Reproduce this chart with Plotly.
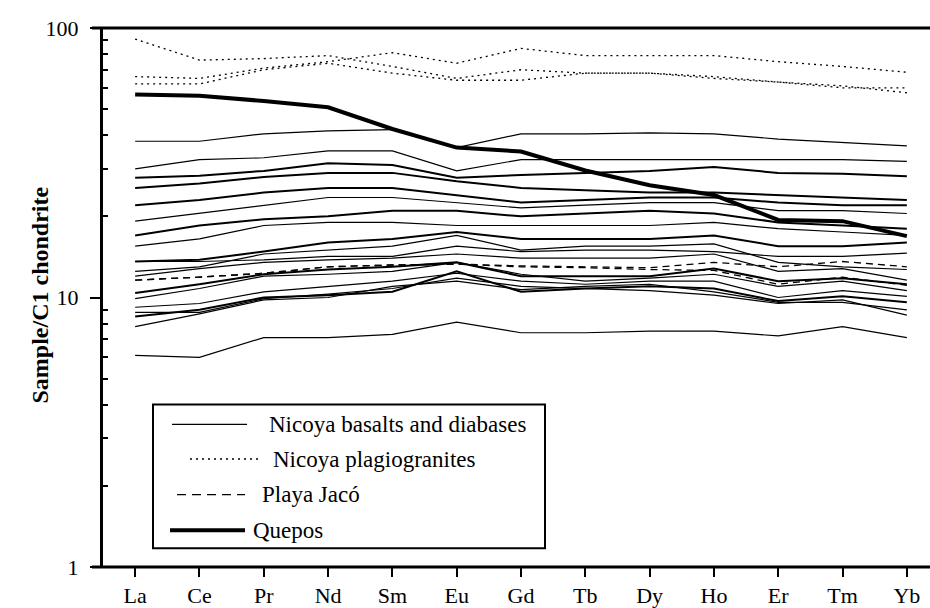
import plotly.graph_objects as go

elements = ["La", "Ce", "Pr", "Nd", "Sm", "Eu", "Gd", "Tb", "Dy", "Ho", "Er", "Tm", "Yb"]

# Nicoya basalts and diabases (thin solid lines)
nicoya_basalts = [
    [38, 38, 40.5, 41.5, 42, 36, 40.5, 40.5, 40.8, 40.5, 38.7, 37.5, 36.5],
    [30, 32.5, 33, 35, 35, 29.5, 32.5, 32.5, 32.5, 32.5, 32.5, 32.5, 32],
    [19.2, 20.5, 22, 23.5, 23.5, 22.5, 21.5, 22, 22.5, 22.5, 21, 21, 20.5],
    [15.5, 16.5, 18.5, 19, 19, 18.5, 18.5, 18.5, 18.5, 19, 18, 17.5, 17],
    [13.6, 13.6, 13.8, 14.2, 14.2, 15.5, 14.8, 15, 15, 14.8, 14.2, 14.2, 14.6],
    [12.5, 13, 14.5, 15, 15.5, 17, 15, 15.5, 15.5, 15.8, 13.5, 13, 12.7],
    [12, 12.8, 13.5, 13.8, 14, 14.5, 14, 14, 14, 14.5, 12.5, 12.8, 11.6],
    [9.9, 10.8, 12, 12.2, 12.5, 13.5, 12.2, 11.5, 11.8, 12.2, 11, 11.5, 10.6],
    [9.2, 9.5, 10.5, 11, 11.5, 12.3, 11.5, 11.2, 11.5, 11.5, 10, 10.6, 10.1],
    [7.8, 8.7, 9.8, 10, 11, 11.5, 10.7, 11, 11.2, 10.5, 9.6, 9.6, 9],
    [8.8, 8.8, 9.9, 10.3, 10.8, 11.8, 11, 10.8, 10.6, 10.2, 9.5, 9.8, 8.6],
    [6.1, 6.0, 7.1, 7.1, 7.3, 8.1, 7.4, 7.4, 7.5, 7.5, 7.2, 7.8, 7.1],
]
# heavier-drawn solid sample lines
heavy_samples = [
    [27.8, 28.3, 29.5, 31.5, 31, 27.8, 28.5, 29, 29.5, 30.5, 29, 28.8, 28.2],
    [25.5, 26.5, 28, 29, 29, 27, 25.5, 25, 24.5, 24.5, 24, 23.5, 23],
    [22, 23, 24.5, 25.5, 25.5, 24, 22.5, 23, 23.5, 23.5, 22.5, 22, 22],
    [17, 18.5, 19.5, 20, 21, 21, 20, 20.5, 21, 20.5, 19, 18.5, 18],
    [13.6, 13.8, 14.8, 16, 16.5, 17.5, 16.5, 16.5, 16.5, 17, 15.5, 15.5, 16],
    [10.4, 11.2, 12.2, 12.7, 13, 13.5, 12, 12, 12, 12.8, 11.5, 11.8, 11.2],
    [8.5, 9, 10, 10.2, 10.5, 12.5, 10.5, 10.8, 11, 10.8, 9.7, 10.1, 9.6],
]
# Nicoya plagiogranites (dotted)
plagiogranites = [
    [91, 76, 77, 79, 72, 65, 70, 68, 68, 66, 63, 60, 60],
    [66, 65, 71, 75, 81, 74, 84, 79, 79, 79, 75, 72, 68.5],
    [62, 62, 70, 74, 68, 64, 64, 68, 68, 65, 63, 61, 57.5],
]
# Playa Jacó (dashed)
playa_jaco = [
    [11.6, 11.9, 12.3, 13.0, 13.2, 13.3, 13.1, 13.0, 12.9, 13.5, 13.0, 13.6, 13.0],
    [11.6, 11.9, 12.3, 13.0, 13.2, 13.3, 13.0, 12.9, 12.7, 12.6, 11.2, 11.9, 11.1],
]
# Quepos (thick)
quepos = [
    [56.6, 56, 53.6, 50.8, 42.2, 36, 34.8, 29.6, 26.1, 24, 19.4, 19.2, 16.9],
]

legend_labels = ["Nicoya basalts and diabases", "Nicoya plagiogranites", "Playa Jacó", "Quepos"]

FONT = "Liberation Serif"
x = list(range(len(elements)))

fig = go.Figure()

def add_lines(series, width, dash="solid"):
    for s in series:
        fig.add_trace(go.Scatter(x=x, y=s, mode="lines",
                                 line=dict(color="black", width=width, dash=dash),
                                 showlegend=False, hoverinfo="skip"))

add_lines(nicoya_basalts, 1.2)
add_lines(heavy_samples, 2.0)
add_lines(plagiogranites, 1.3, "2px,4px")
add_lines(playa_jaco, 1.3, "7px,5px")
add_lines(quepos, 4.0)

W, H = 930, 608
ml, mr, mt, mb = 103, 0, 28, 36
pw, ph = W - ml - mr, H - mt - mb

def px(xp):
    return (xp - ml) / pw

def py(yp):
    return (H - mb - yp) / ph

shapes = []
shapes.append(dict(type="line", xref="paper", yref="paper", x0=px(92), x1=1.0, y0=1, y1=1,
                   line=dict(color="black", width=3)))
shapes.append(dict(type="line", xref="paper", yref="paper", x0=px(92), x1=1.0, y0=0, y1=0,
                   line=dict(color="black", width=3)))
shapes.append(dict(type="rect", xref="paper", yref="paper", x0=px(153), x1=px(545),
                   y0=py(553), y1=py(408), line=dict(color="black", width=2)))

rows_y = [428, 463, 499, 535]
samples = [(172, 247, 1.2, "solid"), (190, 262, 1.3, "2px,4px"), (177, 245, 1.3, "9px,6px"), (170, 245, 4, "solid")]
text_x = [267, 271, 260, 251]
annotations = []
for i, lab in enumerate(legend_labels):
    x0, x1, w, d = samples[i]
    shapes.append(dict(type="line", xref="paper", yref="paper", x0=px(x0), x1=px(x1),
                       y0=py(rows_y[i]), y1=py(rows_y[i]), line=dict(color="black", width=w, dash=d)))
    annotations.append(dict(xref="paper", yref="paper", x=px(text_x[i]), y=py(rows_y[i]),
                            text=lab, showarrow=False, xanchor="left", yanchor="middle",
                            font=dict(family=FONT, size=23, color="black")))

annotations.append(dict(xref="paper", yref="paper", x=px(40), y=py(298), text="<b>Sample/C1 chondrite</b>",
                        textangle=-90, showarrow=False, xanchor="center", yanchor="middle",
                        font=dict(family=FONT, size=24, color="black")))

fig.update_layout(
    width=W, height=H,
    margin=dict(l=ml, r=mr, t=mt, b=mb, pad=0),
    paper_bgcolor="white", plot_bgcolor="white",
    showlegend=False,
    shapes=shapes, annotations=annotations,
    xaxis=dict(range=[-0.5, 12.36], tickmode="array", tickvals=x, ticktext=elements,
               ticks="outside", ticklen=9, tickwidth=2, tickcolor="black",
               showgrid=False, zeroline=False, showline=False,
               tickfont=dict(family=FONT, size=22, color="black")),
    yaxis=dict(type="log", range=[0, 2], tickmode="array", tickvals=[1, 10, 100],
               ticktext=["1", "10", "100"],
               ticks="outside", ticklen=10, tickwidth=2, tickcolor="black",
               showline=True, linewidth=3, linecolor="black",
               showgrid=False, zeroline=False, ticklabelstandoff=7,
               tickfont=dict(family=FONT, size=22, color="black"),
               minor=dict(ticks="inside", ticklen=5, tickwidth=1.5, tickcolor="black",
                          tickvals=[2, 3, 4, 5, 6, 7, 8, 9, 20, 30, 40, 50, 60, 70, 80, 90],
                          showgrid=False)),
)

fig.write_html("out.html")
